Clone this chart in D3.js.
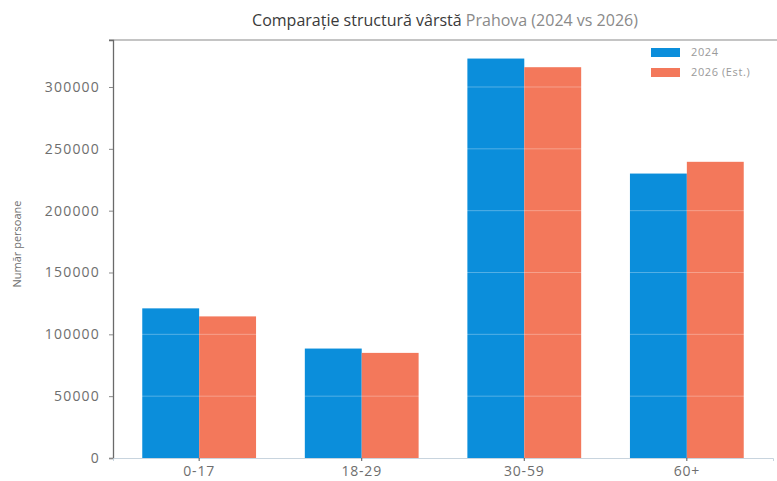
<!DOCTYPE html>
<html>
<head>
<meta charset="utf-8">
<script src="https://cdn.jsdelivr.net/npm/d3@7"></script>
<style>
  body { margin: 0; background: #fff; }
  text { font-family: "Open Sans", "DejaVu Sans", sans-serif; }
</style>
</head>
<body>
<div id="chart"></div>
<script>
// data
var categories = ["0-17", "18-29", "30-59", "60+"];
var seriesNames = ["2024", "2026 (Est.)"];
var values2024 = [121000, 88500, 323000, 230000];
var values2026 = [114500, 85000, 316000, 239500];
var yTicks = [0, 50000, 100000, 150000, 200000, 250000, 300000];

var colors = ["#0b8edb", "#f3785b"];

var margin = {top: 40, right: 4, bottom: 23, left: 113},
    width = 777 - margin.left - margin.right,
    height = 481 - margin.top - margin.bottom;

var svg = d3.select("#chart")
  .append("svg")
    .attr("width", 777)
    .attr("height", 481)
  .append("g")
    .attr("transform", "translate(" + margin.left + "," + margin.top + ")");

// scales
var x = d3.scaleBand()
  .domain(categories)
  .range([0, width])
  .paddingInner(0.3)
  .paddingOuter(0.18);

var xSub = d3.scaleBand()
  .domain(seriesNames)
  .range([0, x.bandwidth()]);

var y = d3.scaleLinear()
  .domain([0, 338000])
  .range([height, 0]);

// top border line
svg.append("line")
  .attr("x1", -4).attr("x2", width + margin.right)
  .attr("y1", 0).attr("y2", 0)
  .attr("stroke", "#8a8a8a")
  .attr("stroke-width", 1.2);

// bars
var rows = categories.map(function(c, i) {
  return {cat: c, vals: [values2024[i], values2026[i]]};
});

var groups = svg.selectAll(".grp")
  .data(rows)
  .enter().append("g")
    .attr("transform", function(d) { return "translate(" + x(d.cat) + ",0)"; });

groups.selectAll("rect")
  .data(function(d) { return d.vals.map(function(v, j) { return {name: seriesNames[j], v: v, j: j}; }); })
  .enter().append("rect")
    .attr("x", function(d) { return xSub(d.name); })
    .attr("y", function(d) { return y(d.v); })
    .attr("width", xSub.bandwidth())
    .attr("height", function(d) { return height - y(d.v); })
    .attr("fill", function(d) { return colors[d.j]; });

// faint grid lines (show over the bars)
svg.append("g")
  .selectAll("line")
  .data(yTicks.slice(1))
  .enter().append("line")
    .attr("x1", 0).attr("x2", width)
    .attr("y1", function(d) { return y(d); })
    .attr("y2", function(d) { return y(d); })
    .attr("stroke", "#ffffff")
    .attr("stroke-opacity", 0.3)
    .attr("stroke-width", 1);

// y axis
var yAxis = svg.append("g")
  .call(d3.axisLeft(y).tickValues(yTicks).tickSize(4).tickPadding(9).tickFormat(d3.format("d")));
yAxis.select(".domain").attr("stroke", "#6a6a6a").attr("stroke-width", 1.3);
yAxis.selectAll(".tick line").attr("stroke", "#888");
yAxis.selectAll("text")
  .attr("fill", "#6e6e6e")
  .style("font-size", "14px")
  .style("letter-spacing", "1.2px");

// x axis
var xAxis = svg.append("g")
  .attr("transform", "translate(0," + height + ")")
  .call(d3.axisBottom(x).tickSize(3).tickPadding(5));
xAxis.select(".domain").attr("stroke", "#c8d4de");
xAxis.selectAll(".tick line").attr("stroke", "#555");
xAxis.selectAll("text")
  .attr("fill", "#6e6e6e")
  .style("font-size", "14px")
  .style("letter-spacing", "0.8px");

// y label
svg.append("text")
  .attr("transform", "rotate(-90)")
  .attr("x", -height / 2 + 5)
  .attr("y", -margin.left + 21)
  .attr("text-anchor", "middle")
  .attr("fill", "#6e6e6e")
  .style("font-size", "11px")
  .text("Număr persoane");

// title
var title = svg.append("text")
  .attr("x", 332)
  .attr("y", -14)
  .attr("text-anchor", "middle")
  .attr("fill", "#3a3a3a")
  .style("font-size", "16px");
title.append("tspan").text("Comparație structură vârstă ");
title.append("tspan").attr("fill", "#8a8a8a").text("Prahova (2024 vs 2026)");

// legend
var legend = svg.append("g")
  .attr("transform", "translate(" + (width - 122) + ",8)");

var li = legend.selectAll("g")
  .data(seriesNames)
  .enter().append("g")
    .attr("transform", function(d, i) { return "translate(0," + (i * 20) + ")"; });

li.append("rect")
  .attr("width", 29).attr("height", 9)
  .attr("fill", function(d, i) { return colors[i]; });

li.append("text")
  .attr("x", 40).attr("y", 8)
  .attr("fill", "#9a9a9a")
  .style("font-size", "11px")
  .style("letter-spacing", "0.6px")
  .text(function(d) { return d; });
</script>
</body>
</html>
